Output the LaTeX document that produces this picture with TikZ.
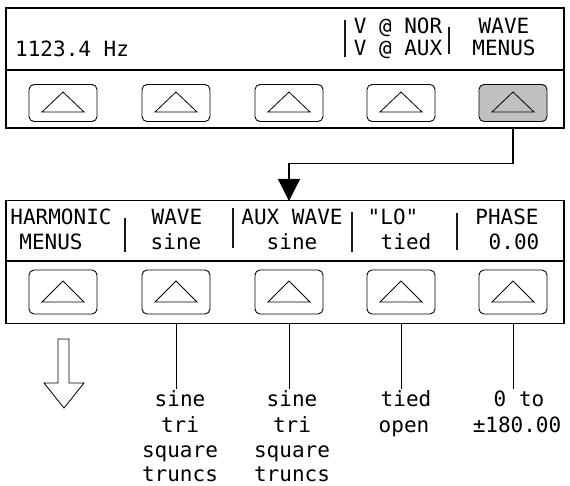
\documentclass[tikz,border=0pt]{standalone}
\usepackage{fontspec}
\setmonofont{DejaVu Sans Mono}
\usetikzlibrary{arrows.meta}
\definecolor{btngray}{HTML}{C0C0C0}
\begin{document}
\begin{tikzpicture}[x=1pt,y=-1pt,
  panel/.style={draw, line width=1.2pt, minimum width=558pt, inner sep=0pt},
  btn/.style={draw, rounded corners=5pt, line width=0.9pt, minimum width=68pt, minimum height=37pt, inner sep=0pt},
  tri/.style={draw, line width=0.8pt, line join=miter},
  lcd/.style={font=\ttfamily\fontsize{21}{21}\selectfont, inner sep=0pt, anchor=base},
  sep/.style={line width=2pt, black!90},
  lead/.style={line width=0.7pt}]
\useasboundingbox (0,0) rectangle (570,486);

% ---------- top panel ----------
\node[panel, minimum height=120pt] (p1) at (285,68) {};
\coordinate (d1l) at (6,70);
\coordinate (d1r) at (564,70);
\draw[line width=1.2pt] (d1l) -- (d1r);
\draw[line width=2pt] (335,70) -- (345,70);

\foreach \i/\x in {1/63,2/176,3/289,4/401,5/513}{
  \ifnum\i=5
    \node[btn, fill=btngray] (t\i) at (\x,103) {};
  \else
    \node[btn] (t\i) at (\x,103) {};
  \fi
  \draw[tri] ([shift={(0,-11)}]t\i.center) -- ([shift={(-21,9)}]t\i.center) -- ([shift={(21,9)}]t\i.center) -- cycle;
}

\node[lcd, anchor=base west] (freq) at (15,57) {1123.4 Hz};
\node[lcd] (vnor) at (398,34) {V @ NOR};
\node[lcd] (vaux) at (398,56) {V @ AUX};
\node[lcd] (wave1) at (504,34) {WAVE};
\node[lcd] (menus1) at (504,56) {MENUS};
\draw[sep] (345,20) -- (345,57);
\draw[sep] (449,27) -- (449,54);

% ---------- second panel ----------
\node[panel, minimum height=123pt] (p2) at (285,262) {};
\coordinate (d2l) at (6,261);
\coordinate (d2r) at (564,261);
\draw[line width=1.2pt] (d2l) -- (d2r);
\draw[line width=2pt] (335,261) -- (345,261);

\foreach \i/\x in {1/63,2/176,3/289,4/401,5/513}{
  \node[btn, minimum height=44pt] (b\i) at (\x,292) {};
  \draw[tri] ([shift={(0,-11)}]b\i.center) -- ([shift={(-21,10)}]b\i.center) -- ([shift={(21,10)}]b\i.center) -- cycle;
}

\node[lcd] (harm) at (61,225) {HARMONIC};
\node[lcd] (menus2) at (51,250) {MENUS};
\node[lcd] (wave2) at (177,225) {WAVE};
\node[lcd] (sine2) at (176,250) {sine};
\node[lcd] (auxw) at (292,225) {AUX WAVE};
\node[lcd] (sine3) at (292,250) {sine};
\node[lcd] (lo) at (393,225) {"LO"};
\node[lcd] (tied) at (406,250) {tied};
\node[lcd] (phase) at (507,225) {PHASE};
\node[lcd] (zero) at (514,250) {0.00};
\draw[sep] (125,218) -- (125,252);
\draw[sep] (233,208) -- (233,248);
\draw[sep] (352,212) -- (352,252);
\draw[sep] (457,213) -- (457,250);

% ---------- connector ----------
\coordinate (arrin) at (289,201);
\draw[line width=1.2pt, -{Triangle[length=22pt,width=22pt]}] (t5 |- p1.south) -- ++(0,35) -| (arrin);

% ---------- leads below ----------
\foreach \i in {2,3,4,5}{
  \draw[lead] (b\i |- p2.south) -- ++(0,65);
}

% hollow arrow
\draw[line width=0.8pt, line join=miter] (58,339) -- (58,383) -- (44,383) -- (64,408) -- (84,383) -- (69,383) -- (69,339) -- cycle;

% ---------- option lists ----------
\node[lcd] (c1a) at (180,406) {sine};
\node[lcd] (c1b) at (180,432) {tri};
\node[lcd] (c1c) at (180,457) {square};
\node[lcd] (c1d) at (180,481) {truncs};
\node[lcd] (c2a) at (292,406) {sine};
\node[lcd] (c2b) at (292,432) {tri};
\node[lcd] (c2c) at (292,457) {square};
\node[lcd] (c2d) at (292,481) {truncs};
\node[lcd] (c3a) at (406,406) {tied};
\node[lcd] (c3b) at (404,432) {open};
\node[lcd] (c4a) at (519,406) {0 to};
\node[lcd] (c4b) at (517,432) {±180.00};
\end{tikzpicture}
\end{document}
